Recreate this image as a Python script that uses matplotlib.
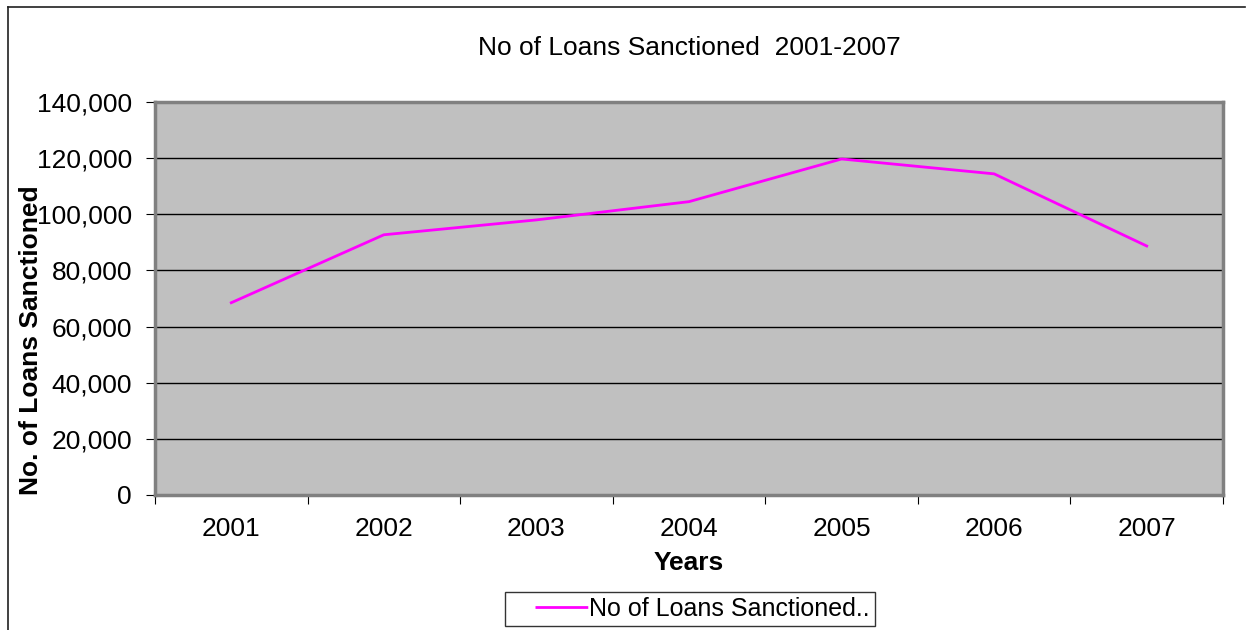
import numpy as np
import matplotlib.pyplot as plt
from matplotlib.lines import Line2D
from matplotlib.ticker import FuncFormatter

plt.rcParams['font.family'] = ['Liberation Sans', 'DejaVu Sans']

# data
years = ['2001', '2002', '2003', '2004', '2005', '2006', '2007']
loans = [68500, 92700, 98000, 104500, 119700, 114400, 88700]

fig = plt.figure(figsize=(12.48, 6.3), dpi=100)
ax = fig.add_axes([155 / 1248, 135 / 630, 1068 / 1248, 393 / 630])
ax.set_facecolor('#c0c0c0')

x = np.arange(len(years))
ax.plot(x, loans, color='#ff00ff', lw=2, zorder=3)

ax.set_xlim(-0.5, len(years) - 0.5)
ax.set_ylim(0, 140000)
ax.set_yticks(np.arange(0, 140001, 20000))
ax.yaxis.set_major_formatter(FuncFormatter(lambda v, p: f'{int(v):,}'))
ax.grid(axis='y', color='black', lw=1)
ax.set_axisbelow(True)

# category ticks between labels
ax.set_xticks(np.arange(-0.5, len(years), 1))
ax.set_xticklabels([])
ax.set_xticks(x, minor=True)
ax.set_xticklabels(years, minor=True, fontsize=19)
ax.tick_params(axis='x', which='minor', length=0, pad=16)
ax.tick_params(axis='x', which='major', length=6.5, direction='out', color='black')
ax.tick_params(axis='y', labelsize=19, length=6.5, color='black', pad=10)

for side in ['left', 'bottom', 'top', 'right']:
    ax.spines[side].set_color('#808080')
    ax.spines[side].set_linewidth(2.5)

ax.set_xlabel('Years', fontsize=19, fontweight='bold')
ax.xaxis.set_label_coords(0.5, -0.143)
ax.set_ylabel('No. of Loans Sanctioned', fontsize=19, fontweight='bold')
ax.yaxis.set_label_coords(-0.105, 0.395)
ax.set_title('No of Loans Sanctioned  2001-2007', fontsize=19, pad=34)

# legend handle: blank gap then the pink line, like the original
handle = Line2D([], [], color='#ff00ff', lw=2, linestyle=(0, (0, 9, 19, 100)))
leg = ax.legend([handle], ['No of Loans Sanctioned..'], loc='upper center',
                bbox_to_anchor=(690 / 1248, 38 / 630), bbox_transform=fig.transFigure,
                fontsize=18, frameon=True, fancybox=False, edgecolor='black',
                handlelength=3.1, handletextpad=0.05, borderpad=0.2, borderaxespad=0)
leg.get_frame().set_linewidth(1)

# outer chart border (left and top only visible)
fig.add_artist(Line2D([8 / 1248, 8 / 1248], [0, 1 - 7 / 630], color='#202020', lw=1.2,
                      transform=fig.transFigure))
fig.add_artist(Line2D([8 / 1248, 1245 / 1248], [1 - 7 / 630, 1 - 7 / 630], color='#202020',
                      lw=1.2, transform=fig.transFigure))

fig.savefig('out.png', dpi=100)
